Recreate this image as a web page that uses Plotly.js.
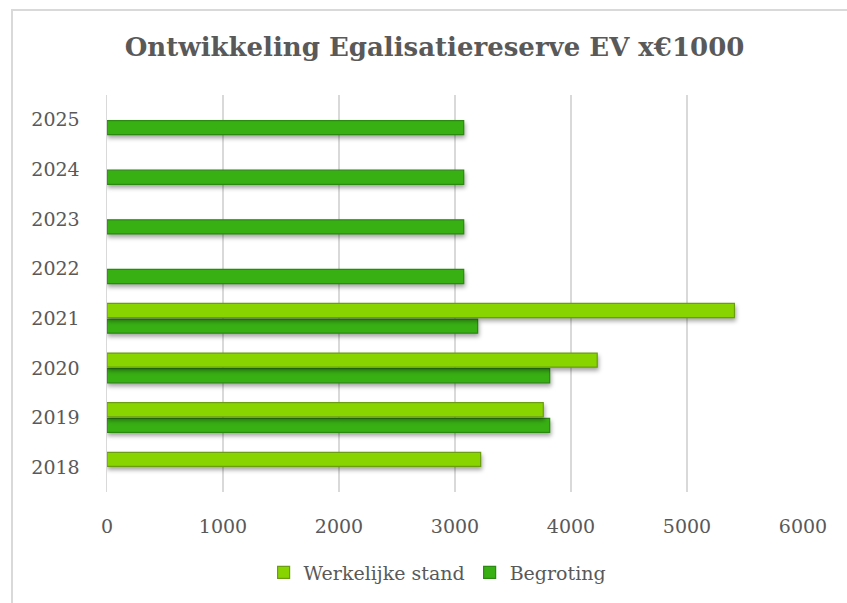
<!DOCTYPE html>
<html>
<head>
<meta charset="utf-8">
<script src="https://cdn.plot.ly/plotly-3.0.1.min.js"></script>
<style>
  html, body { margin: 0; padding: 0; background: #fff; }
  #wrap { position: relative; width: 847px; height: 603px; overflow: hidden; }
  #frame { position: absolute; left: 11px; top: 9px; width: 900px; height: 700px; border-left: 2px solid #d9d9d9; border-top: 2px solid #d9d9d9; box-sizing: border-box; pointer-events: none; z-index: 2; }
  #chart { position: absolute; left: 0; top: 0; width: 847px; height: 603px; }
  #chart .bars .point path { filter: drop-shadow(1px 3px 2px rgba(0,0,0,0.35)); }
</style>
</head>
<body>
<div id="wrap">
  <div id="chart"></div>
  <div id="frame"></div>
</div>
<script>
const years = ['2018', '2019', '2020', '2021', '2022', '2023', '2024', '2025'];
const werkelijkeStand = [3221, 3761, 4226, 5409, null, null, null, null];
const begroting = [null, 3816, 3816, 3195, 3075, 3075, 3075, 3075];
const xTicks = [0, 1000, 2000, 3000, 4000, 5000, 6000];

const fontFam = '"DejaVu Serif", "Liberation Serif", serif';
const txt = '#595959';

const traces = [
  {
    type: 'bar', orientation: 'h', name: 'Begroting',
    y: years, x: begroting, legendrank: 2,
    marker: { color: '#38B014', line: { color: '#2A8A10', width: 1.2 } }
  },
  {
    type: 'bar', orientation: 'h', name: 'Werkelijke stand',
    y: years, x: werkelijkeStand, legendrank: 1,
    marker: { color: '#88D400', line: { color: '#6A9E10', width: 1.2 } }
  }
];

const layout = {
  width: 847, height: 603,
  margin: { l: 107, r: 44, t: 95, b: 111 },
  paper_bgcolor: '#ffffff', plot_bgcolor: '#ffffff',
  font: { family: fontFam, color: txt, size: 19 },
  title: {
    text: '<b>Ontwikkeling Egalisatiereserve EV x€1000</b>',
    font: { family: fontFam, size: 26, color: txt },
    x: 0.513, xanchor: 'center', y: 0.923, yanchor: 'middle'
  },
  barmode: 'group', bargap: 0.37, bargroupgap: 0.1,
  xaxis: {
    range: [0, 6000], tickvals: xTicks, ticktext: xTicks.map(String),
    showgrid: true, gridcolor: '#d9d9d9', gridwidth: 1.5,
    zeroline: false, showline: false,
    ticks: 'outside', ticklen: 17, tickcolor: 'rgba(0,0,0,0)',
    tickfont: { family: fontFam, size: 19, color: txt }, fixedrange: true
  },
  yaxis: {
    type: 'category', categoryorder: 'array', categoryarray: years,
    showgrid: false, zeroline: false,
    showline: true, linecolor: '#d9d9d9', linewidth: 1.5,
    ticks: 'outside', ticklen: 22, tickcolor: 'rgba(0,0,0,0)',
    tickfont: { family: fontFam, size: 19, color: txt }, fixedrange: true
  },
  showlegend: true,
  legend: {
    orientation: 'h', x: 0.475, xanchor: 'center', y: -0.155, yanchor: 'top',
    font: { family: fontFam, size: 19, color: txt },
    itemwidth: 30, traceorder: 'normal'
  }
};

Plotly.newPlot('chart', traces, layout, { displayModeBar: false, staticPlot: true });
</script>
</body>
</html>
